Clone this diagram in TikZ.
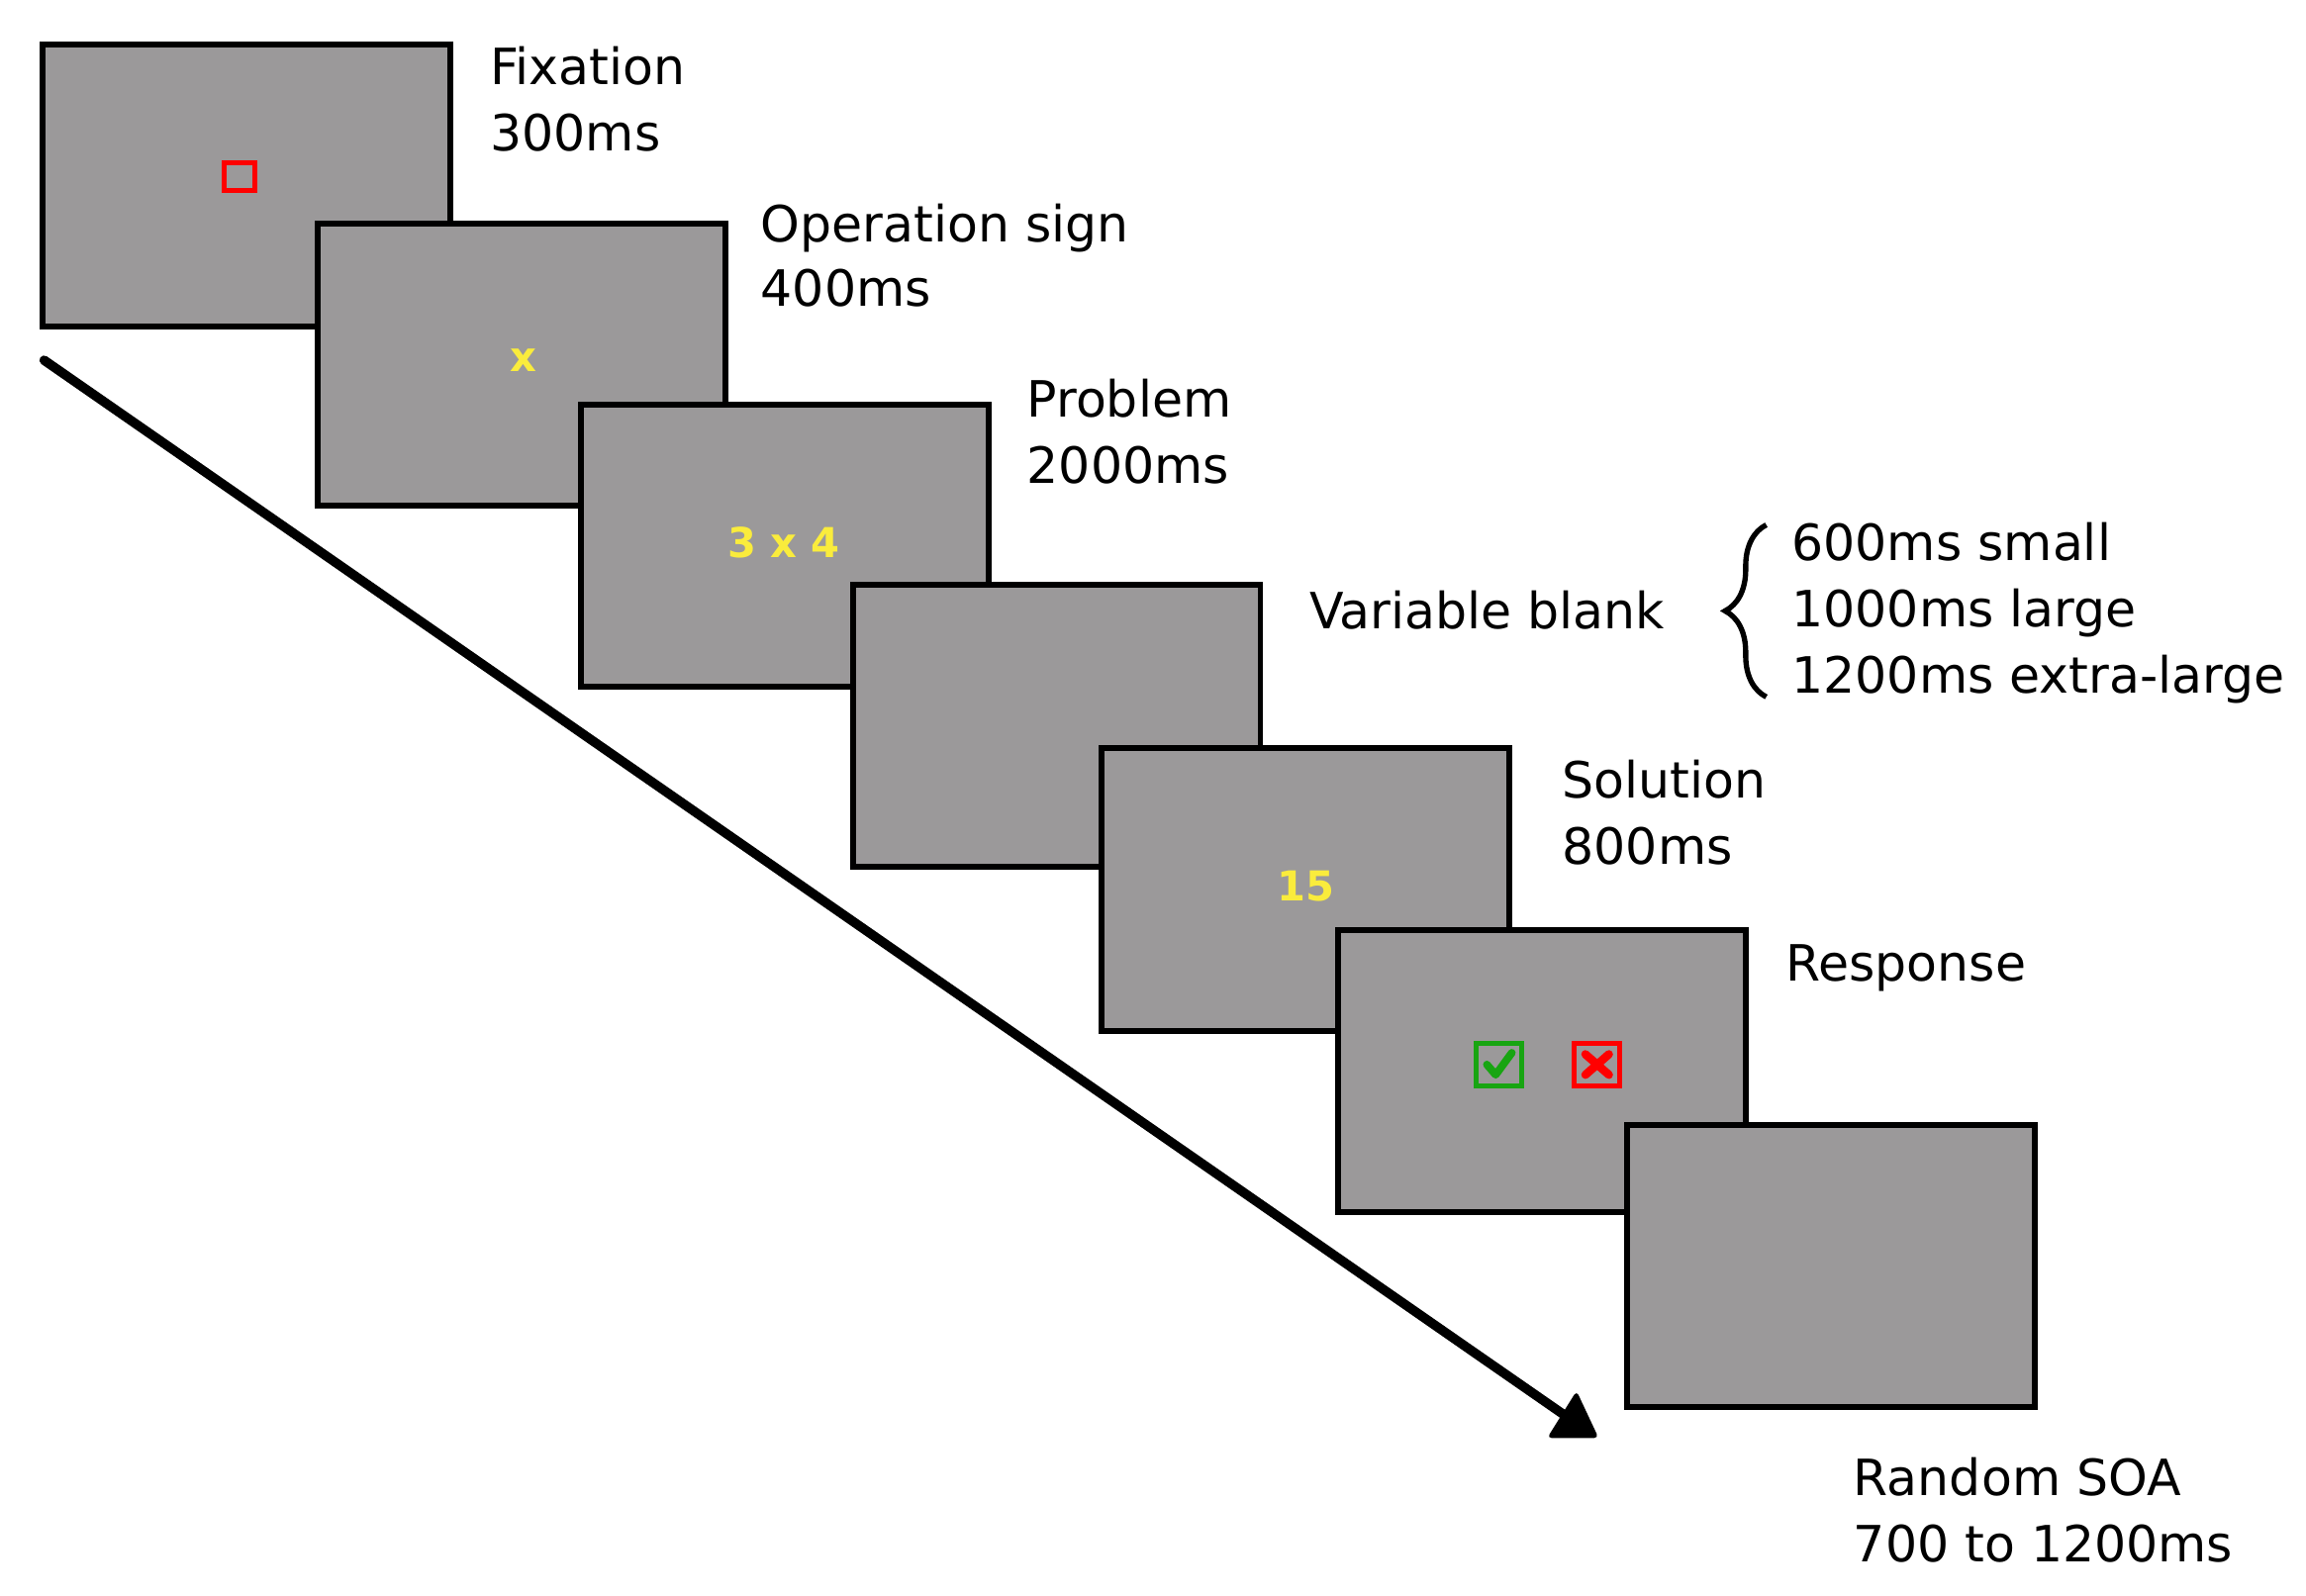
\documentclass[tikz,border=0pt]{standalone}
\usepackage{fontspec}
\setmainfont{DejaVu Sans}
\usetikzlibrary{decorations.pathreplacing}
\definecolor{scrgray}{RGB}{155,153,154}
\definecolor{stimyellow}{RGB}{250,236,60}
\definecolor{okgreen}{RGB}{24,165,18}
\definecolor{badred}{RGB}{255,0,0}
\tikzset{
  screen/.style={draw=black, fill=scrgray, line width=2pt, minimum width=138.5pt, minimum height=96pt, inner sep=0pt, outer sep=0pt},
  lbl/.style={anchor=base west, inner sep=0pt, font=\fontsize{17pt}{20pt}\selectfont, text=black},
  stim/.style={inner sep=0pt, font=\fontsize{14pt}{16pt}\selectfont\bfseries, text=stimyellow},
  iconbox/.style={inner sep=0pt, minimum width=15.5pt, minimum height=14.5pt, line width=1.6pt},
}
\begin{document}
\begin{tikzpicture}[x=0.5pt, y=-0.5pt]
\useasboundingbox (0,0) rectangle (1568,1085);
% screens
\node[screen] (s1) at (167.5,126) {};
\node[screen] (s2) at (354.5,248) {};
\node[screen] (s3) at (533.5,371) {};
\node[screen] (s4) at (718.5,493.5) {};
\node[screen] (s5) at (887.5,605) {};
\node[screen] (s6) at (1048.5,728.5) {};
\node[screen] (s7) at (1245,861) {};
% contents
\node[draw=badred, line width=1.6pt, minimum width=10.5pt, minimum height=9.5pt, inner sep=0pt] (fix) at (163,120) {};
\node[stim] (op) at (356,245) {x};
\node[stim] (prob) at (533,369) {3 x 4};
\node[stim] (sol) at (888,603) {15};
\node[iconbox, draw=okgreen] (ok) at (1019,724) {};
\draw[okgreen, line width=2.6pt, line cap=round, line join=round] ([shift={(-8,0)}]ok.center) -- ([shift={(-2,7)}]ok.center) -- ([shift={(9,-8)}]ok.center);
\node[iconbox, draw=badred] (bad) at (1086,724) {};
\draw[badred, line width=2.8pt, line cap=round] ([shift={(-8,-7)}]bad.center) -- ([shift={(8,7)}]bad.center);
\draw[badred, line width=2.8pt, line cap=round] ([shift={(-8,7)}]bad.center) -- ([shift={(8,-7)}]bad.center);
% time arrow
\coordinate (tstart) at (30,245);
\coordinate (tend) at (1066,964);
\draw[line width=3.2pt, line cap=round] (tstart) -- (tend);
\fill[rounded corners=1.5pt] (1052,978) -- (1087,978) -- (1072,946) -- cycle;
% labels
\node[lbl] (l1a) at (333,57.5) {Fixation};
\node[lbl] (l1b) at (333,102.5) {300ms};
\node[lbl] (l2a) at (517,164.5) {Operation sign};
\node[lbl] (l2b) at (517,208.5) {400ms};
\node[lbl] (l3a) at (698,283.5) {Problem};
\node[lbl] (l3b) at (698,328.5) {2000ms};
\node[lbl] (l4) at (890,427.5) {Variable blank};
\node[lbl] (l4a) at (1218,381.5) {600ms small};
\node[lbl] (l4b) at (1218,426.5) {1000ms large};
\node[lbl] (l4c) at (1218,471.5) {1200ms extra-large};
\node[lbl] (l5a) at (1062,542.5) {Solution};
\node[lbl] (l5b) at (1062,587.5) {800ms};
\node[lbl] (l6) at (1214,667.5) {Response};
\node[lbl] (l7a) at (1260,1017.5) {Random SOA};
\node[lbl] (l7b) at (1260,1062.5) {700 to 1200ms};
% brace
\coordinate (bbot) at (1201,474);
\coordinate (btop) at (1201,357);
\draw[line width=1.8pt, decorate, decoration={brace, amplitude=14pt}] (bbot) -- (btop);
\end{tikzpicture}
\end{document}
